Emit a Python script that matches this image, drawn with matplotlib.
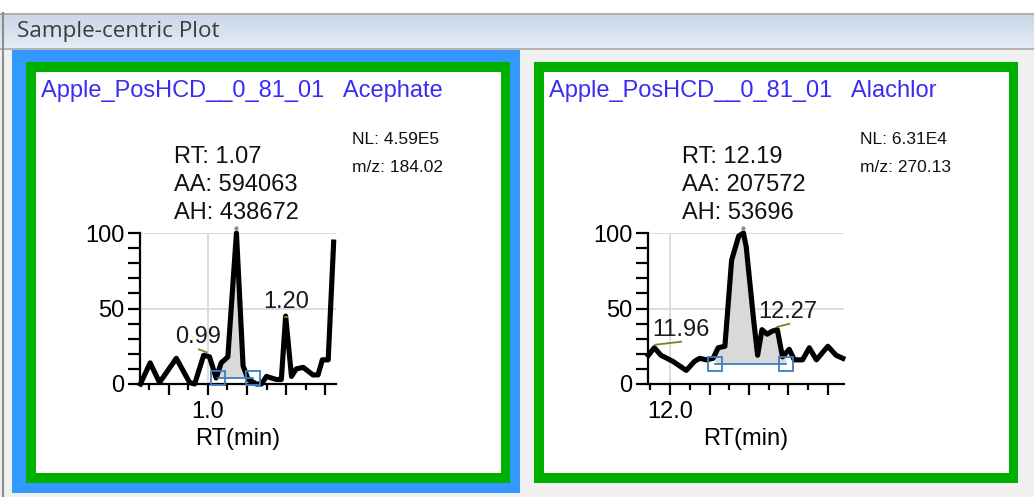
import numpy as np
import matplotlib.pyplot as plt
from matplotlib.patches import Rectangle
from matplotlib.colors import LinearSegmentedColormap
from matplotlib.ticker import FixedLocator, MultipleLocator

plt.rcParams['font.family'] = ['Liberation Sans', 'DejaVu Sans']

# 数据：样品名、化合物与峰信息
sample_name = 'Apple_PosHCD__0_81_01'
compounds = ['Acephate', 'Alachlor']
apex_rt = ['1.07', '12.19']
apex_area = ['594063', '207572']
apex_height = ['438672', '53696']
norm_level = ['4.59E5', '6.31E4']
mz_values = ['184.02', '270.13']

# Acephate 色谱图 (相对强度 %)
acephate_rt = [0.827, 0.852, 0.876, 0.919, 0.953, 0.966, 0.989, 1.004, 1.021, 1.034,
               1.051, 1.073, 1.090, 1.103, 1.124, 1.137, 1.150, 1.175, 1.188, 1.199,
               1.214, 1.226, 1.244, 1.269, 1.282, 1.293, 1.308, 1.322]
acephate_int = [0, 14, 1, 17, 1, 0, 19, 18, 4, 14,
                18, 100, 12, 3, 0, 0, 5, 3, 3, 45,
                5, 10, 11, 6, 6, 16, 16, 94]

# Alachlor 色谱图
alachlor_rt = [11.945, 11.960, 11.977, 12.007, 12.041, 12.062, 12.075, 12.092, 12.109, 12.122,
               12.139, 12.156, 12.174, 12.186, 12.193, 12.212, 12.222, 12.233, 12.246, 12.259,
               12.272, 12.285, 12.302, 12.315, 12.336, 12.353, 12.371, 12.400, 12.421, 12.438]
alachlor_int = [19, 24, 19, 15, 9, 15, 17, 16, 17, 24,
                25, 82, 98, 100, 91, 42, 19, 36, 33, 35,
                36, 18, 23, 16, 16, 24, 16, 25, 19, 17]

# 积分起止与基线
peak_start = [1.026, 12.114]
peak_end = [1.115, 12.293]
peak_base = [4, 13.4]

# 其它峰标注
acephate_peaks = ['0.99', '1.20']
alachlor_peaks = ['11.96', '12.27']

# 坐标轴
x_ranges = [(0.826, 1.328), (11.944, 12.441)]
x_grid = [1.0, 12.0]
x_major = [[0.9, 1.0, 1.1, 1.2, 1.3], [12.0, 12.1, 12.2, 12.3, 12.4]]
x_major_labels = [['', '1.0', '', '', ''], ['12.0', '', '', '', '']]
x_minor = [[0.85, 0.95, 1.05, 1.15, 1.25], [11.95, 12.05, 12.15, 12.25, 12.35]]
y_labels = ['0', '50', '100']

W, H = 1034, 497
fig = plt.figure(figsize=(W / 100, H / 100), dpi=100)
fig.patch.set_facecolor('#f0f0f0')

bg = fig.add_axes([0, 0, 1, 1])
bg.set_xlim(0, W)
bg.set_ylim(H, 0)
bg.axis('off')

# 顶部白色区域和标题栏
bg.add_patch(Rectangle((0, 0), W, 13, color='white', lw=0))
grad = np.linspace(0, 1, 50).reshape(-1, 1)
bar_cmap = LinearSegmentedColormap.from_list('bar', ['#c9d6e8', '#e4ecf6'])
bg.imshow(grad, extent=(0, W, 48, 13), cmap=bar_cmap, aspect='auto', zorder=1)
bg.plot([0, W], [13.5, 13.5], color='#a8a8a8', lw=1.2, zorder=2)
bg.plot([0, W], [48.5, 48.5], color='#a8a8a8', lw=1.2, zorder=2)
bg.plot([3, 3], [13, H], color='#8c8c8c', lw=1.5, zorder=2)
bg.text(17, 31, 'Sample-centric Plot', fontsize=16.2, color='#3c3c3c',
        family=['Open Sans', 'DejaVu Sans'], va='center', ha='left', zorder=3)

# 选中面板的蓝框
bg.add_patch(Rectangle((12, 50), 508, 443, color='#3399ff', lw=0, zorder=1))

for i, ox in enumerate([0, 508]):
    bg.add_patch(Rectangle((26 + ox, 62), 484, 421, color='#00b000', lw=0, zorder=2))
    bg.add_patch(Rectangle((36 + ox, 72), 465, 401, color='white', lw=0, zorder=3))
    bg.text(41 + ox, 91, sample_name + '   ' + compounds[i], fontsize=17, color='#3a2cf0',
            va='center', ha='left', zorder=4)
    bg.text(174 + ox, 157, 'RT: ' + apex_rt[i], fontsize=17, color='#111111', va='center', zorder=4)
    bg.text(174 + ox, 185, 'AA: ' + apex_area[i], fontsize=17, color='#111111', va='center', zorder=4)
    bg.text(174 + ox, 213, 'AH: ' + apex_height[i], fontsize=17, color='#111111', va='center', zorder=4)
    bg.text(352 + ox, 140, 'NL: ' + norm_level[i], fontsize=12.5, color='#111111', va='center', zorder=4)
    bg.text(352 + ox, 168, 'm/z: ' + mz_values[i], fontsize=12.5, color='#111111', va='center', zorder=4)

# 标注的位置偏移(像素) 与引线范围(分钟)
traces = [(acephate_rt, acephate_int, acephate_peaks,
           [(-6, 18), (0, 18)], [(-0.013, 0.007, 4, 2), (-0.003, 0.003, 2, 2)]),
          (alachlor_rt, alachlor_int, alachlor_peaks,
           [(27, 18), (11, 18)], [(0.002, 0.068, 2, 4), (0.002, 0.032, 2, 4)])]

for i, ox in enumerate([0, 508]):
    rt, inten, pk_labels, offs, dashes = traces[i]
    rt = np.array(rt)
    inten = np.array(inten, dtype=float)
    x0, x1 = 140 + ox, 336 + ox
    ax = fig.add_axes([x0 / W, (H - 384) / H, (x1 - x0) / W, 151 / H])
    ax.set_facecolor('none')
    ax.set_xlim(*x_ranges[i])
    ax.set_ylim(0, 100)
    for s in ['top', 'right']:
        ax.spines[s].set_visible(False)
    for s in ['left', 'bottom']:
        ax.spines[s].set_linewidth(1.6)
    ax.axhline(50, color='#dcdcdc', lw=1.4, zorder=0)
    ax.axhline(100, color='#dcdcdc', lw=1.4, zorder=0)
    ax.axvline(x_grid[i], color='#dcdcdc', lw=1.4, zorder=0)

    ax.xaxis.set_major_locator(FixedLocator(x_major[i]))
    ax.set_xticklabels(x_major_labels[i])
    ax.xaxis.set_minor_locator(FixedLocator(x_minor[i]))
    ax.set_yticks([0, 50, 100])
    ax.set_yticklabels(y_labels)
    ax.yaxis.set_minor_locator(MultipleLocator(10))
    ax.tick_params(axis='x', which='major', length=8, width=1.6, pad=4, labelsize=17)
    ax.tick_params(axis='x', which='minor', length=4.5, width=1.6)
    ax.tick_params(axis='y', which='both', length=9, width=1.6, pad=2, labelsize=17)
    ax.set_xlabel('RT(min)', fontsize=17, labelpad=4)

    # 积分区域
    xs = np.linspace(peak_start[i], peak_end[i], 200)
    ys = np.interp(xs, rt, inten)
    ax.fill_between(xs, peak_base[i], ys, color='#d9d9d9', lw=0, zorder=1)
    ax.plot([peak_start[i], peak_end[i]], [peak_base[i], peak_base[i]], color='#3f7fc0', lw=1.3, zorder=3)
    ax.plot([peak_start[i], peak_end[i]], [peak_base[i], peak_base[i]], ls='none', marker='s',
            ms=9.5, mfc='none', mec='#3f7fc0', mew=1.3, zorder=4, clip_on=False)

    ax.plot(rt, inten, color='black', lw=3.7, solid_joinstyle='round', zorder=2, clip_on=False)
    top = rt[np.argmax(inten)]
    ax.plot([top], [103], 'o', ms=2, color='#7090b0', clip_on=False)

    for lab, (dx, dy), (d0, d1, h0, h1) in zip(pk_labels, offs, dashes):
        prt = float(lab)
        py = np.interp(prt, rt, inten)
        ax.annotate(lab, (prt, py), xytext=(dx, dy), textcoords='offset pixels',
                    ha='center', va='center', fontsize=17, color='#1a1a1a')
        ax.plot([prt + d0, prt + d1], [py + h0, py + h1], color='#6b8e23', lw=1.3, zorder=3)

fig.savefig('out.png', dpi=100)
